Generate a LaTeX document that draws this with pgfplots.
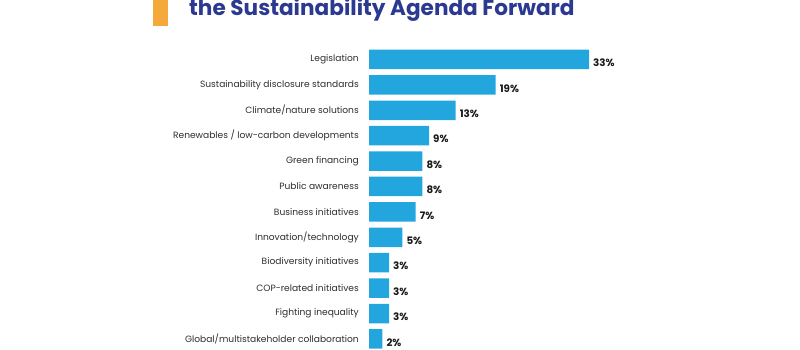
\documentclass[border=0pt]{standalone}
\usepackage{pgfplots}
\pgfplotsset{compat=1.18}
\usepackage{fontspec}
\setmainfont{Poppins}
\definecolor{barblue}{HTML}{23A6DE}
\definecolor{navy}{HTML}{2B3990}
\definecolor{orng}{HTML}{F5A93A}
\definecolor{lbl}{HTML}{2E2E2E}
\begin{document}
\begin{tikzpicture}[x=1pt,y=1pt]
\path[use as bounding box] (0,0) rectangle (800,350);
\fill[orng] (153,350) rectangle (168,324);
\node[anchor=base west, inner sep=0pt, text=navy, font=\fontsize{21.6}{23}\selectfont\bfseries] at (189,334) {the Sustainability Agenda Forward};
\begin{axis}[
  at={(369pt,290.5pt)}, anchor=north west,
  scale only axis, width=220pt, height=279.4pt,
  xmin=0, xmax=33, ymin=0, ymax=11, enlargelimits=false,
  y dir=reverse, clip=false,
  xbar, bar width=19.5pt,
  hide x axis,
  axis y line*=left, y axis line style={draw=none},
  major tick length=0pt,
  ytick={0,...,11},
  yticklabels={Legislation, Sustainability disclosure standards, Climate/nature solutions, Renewables / low-carbon developments, Green financing, Public awareness, Business initiatives, Innovation/technology, Biodiversity initiatives, COP-related initiatives, Fighting inequality, Global/multistakeholder collaboration},
  yticklabel style={font=\fontsize{9.1}{10}\selectfont, text=lbl, anchor=east, inner sep=0pt, xshift=-10pt},
  /pgf/number format/assume math mode=true,
  nodes near coords={\pgfmathprintnumber{\pgfplotspointmeta}\%},
  nodes near coords style={font=\fontsize{10.3}{11}\selectfont\bfseries, text=black!90, anchor=west, inner sep=0pt, xshift=4pt, yshift=-3.5pt},
]
\addplot[fill=barblue, draw=none] coordinates {
(33,0) (19,1) (13,2) (9,3) (8,4) (8,5) (7,6) (5,7) (3,8) (3,9) (3,10) (2,11)
};
\end{axis}
\end{tikzpicture}
\end{document}
